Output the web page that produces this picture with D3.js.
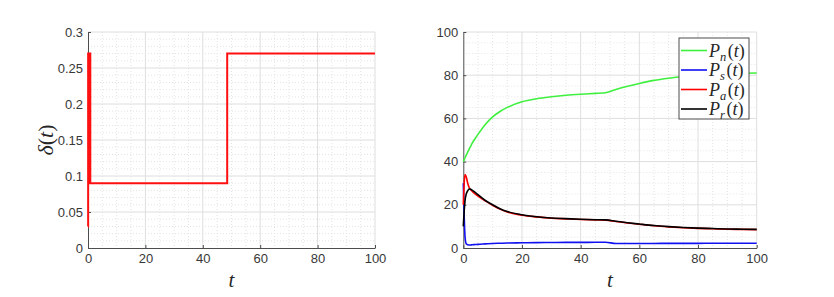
<!DOCTYPE html>
<html lang="en">
<meta charset="utf-8">
<style>
body { margin: 0; background: #fff; }
.tick text { font-family: "Liberation Sans", Arial, sans-serif; font-size: 13px; fill: #383838; }
.axis path, .axis line { stroke: #4d4d4d; }
.grid-major line { stroke: #dedede; stroke-width: 1px; }
.grid-minor line { stroke: #e4e4e4; stroke-width: 1px; stroke-dasharray: 1,2; }
.math { font-family: "Liberation Serif", "Times New Roman", serif; fill: #262626; }
</style>
<body>
<div id="chart"></div>
<script src="https://d3js.org/d3.v7.min.js"></script>
<script>
"use strict";

// left panel: delta(t), switching at the start and at t ~ 48.5
const tDelta = [0, 0.05, 0.05, 0.2, 0.2, 0.35, 0.35, 0.5, 0.5, 0.65, 0.65, 0.8, 0.8, 48.5, 48.5, 100];
const delta  = [0.03, 0.03, 0.27, 0.27, 0.09, 0.09, 0.27, 0.27, 0.09, 0.09, 0.27, 0.27, 0.09, 0.09, 0.27, 0.27];
const deltaTicks = [0, 0.05, 0.1, 0.15, 0.2, 0.25, 0.3];

// right panel: populations
const tP = [0, 0.3, 0.6, 1, 1.5, 2, 2.5, 3, 4, 5, 7.5, 10, 12.5, 15, 20, 25, 30, 35, 40, 45, 48.5, 52, 56, 60, 65, 70, 75, 80, 85, 90, 95, 100];
const Pn = [40, 40.9, 41.8, 43, 44.4, 45.8, 47.1, 48.4, 50.6, 52.6, 57.2, 60.7, 63.2, 65.1, 67.7, 69.1, 70, 70.7, 71.2, 71.6, 71.9, 73.4, 74.9, 76.2, 77.6, 78.6, 79.4, 80, 80.4, 80.7, 80.9, 81];
const Ps = [30, 15, 5, 2, 1.5, 1.4, 1.4, 1.5, 1.6, 1.7, 1.9, 2.1, 2.2, 2.3, 2.4, 2.5, 2.55, 2.6, 2.6, 2.65, 2.65, 2.1, 2.1, 2.1, 2.1, 2.15, 2.15, 2.15, 2.2, 2.2, 2.2, 2.2];
const Pa = [20, 30, 34, 33, 30, 28, 27, 26.3, 25, 24, 21.8, 19.8, 18, 16.7, 15.2, 14.4, 13.8, 13.5, 13.2, 13.0, 12.9, 12.3, 11.6, 11, 10.3, 9.8, 9.4, 9.1, 8.9, 8.7, 8.6, 8.5];
const Pr = [10, 17, 22, 25, 26.5, 27.3, 27.2, 26.8, 25.8, 24.7, 22, 20, 18.2, 16.9, 15.4, 14.5, 13.9, 13.6, 13.3, 13.1, 13.0, 12.4, 11.7, 11.1, 10.4, 9.9, 9.5, 9.2, 9.0, 8.8, 8.7, 8.6];
const popNames = ["n", "s", "a", "r"];
const popColors = ["#3ff03f", "#1010f0", "#ff0000", "#000000"];
const popTicks = [0, 20, 40, 60, 80, 100];
const tTicks = [0, 20, 40, 60, 80, 100];

var svg = d3.select("#chart").append("svg")
  .attr("width", 834)
  .attr("height", 297);

function panel(left, right, yDomain, yTicks, yMinor, yFmt) {
  var top = 32, bottom = 248;
  var x = d3.scaleLinear().domain([0, 100]).range([left, right]);
  var y = d3.scaleLinear().domain(yDomain).range([bottom, top]);
  var g = svg.append("g");

  // minor grid (dotted)
  var gm = g.append("g").attr("class", "grid-minor");
  gm.selectAll("line.vx").data(d3.range(5, 100, 5).filter(v => v % 20 !== 0))
    .join("line").attr("class", "vx")
    .attr("x1", d => x(d)).attr("x2", d => x(d)).attr("y1", top).attr("y2", bottom);
  gm.selectAll("line.hy").data(yMinor)
    .join("line").attr("class", "hy")
    .attr("x1", left).attr("x2", right).attr("y1", d => y(d)).attr("y2", d => y(d));

  // major grid
  var gM = g.append("g").attr("class", "grid-major");
  gM.selectAll("line.vx").data(tTicks.slice(1))
    .join("line").attr("class", "vx")
    .attr("x1", d => x(d)).attr("x2", d => x(d)).attr("y1", top).attr("y2", bottom);
  gM.selectAll("line.hy").data(yTicks.slice(1))
    .join("line").attr("class", "hy")
    .attr("x1", left).attr("x2", right).attr("y1", d => y(d)).attr("y2", d => y(d));

  g.append("g").attr("class", "axis")
    .attr("transform", "translate(0," + bottom + ")")
    .call(d3.axisBottom(x).tickValues(tTicks).tickSizeInner(-3).tickSizeOuter(0).tickPadding(6));
  g.append("g").attr("class", "axis")
    .attr("transform", "translate(" + left + ",0)")
    .call(d3.axisLeft(y).tickValues(yTicks).tickFormat(yFmt).tickSizeInner(-3).tickSizeOuter(0).tickPadding(5));
  g.selectAll(".axis .domain").attr("stroke", "#4d4d4d");

  // x label
  g.append("text").attr("class", "math")
    .attr("x", (left + right) / 2).attr("y", 287)
    .attr("text-anchor", "middle")
    .style("font-size", "21px").style("font-style", "italic")
    .text("t");

  return {g: g, x: x, y: y};
}

// ---- left panel
var L = panel(88, 375, [0, 0.3], deltaTicks, d3.range(0.01, 0.3, 0.01).filter((v, i) => (i + 1) % 5 !== 0), d => d === 0 ? "0" : String(d));

L.g.append("path")
  .datum(tDelta.map((t, i) => [t, delta[i]]))
  .attr("fill", "none").attr("stroke", "#ff1010").attr("stroke-width", 2)
  .attr("d", d3.line().x(d => L.x(d[0])).y(d => L.y(d[1])));

var yl = L.g.append("text").attr("class", "math")
  .attr("transform", "translate(53,140) rotate(-90)")
  .attr("text-anchor", "middle")
  .style("font-size", "22px");
yl.append("tspan").style("font-style", "italic").text("δ");
yl.append("tspan").text("(");
yl.append("tspan").style("font-style", "italic").text("t");
yl.append("tspan").text(")");

// ---- right panel
var R = panel(463.3, 756.7, [0, 100], popTicks, d3.range(5, 100, 5).filter(v => v % 20 !== 0), d => String(d));

var series = [Pn, Ps, Pa, Pr];
var line = d3.line().curve(d3.curveMonotoneX).x((d, i) => R.x(tP[i])).y(d => R.y(d));
series.forEach(function(s, k) {
  R.g.append("path").datum(s)
    .attr("fill", "none").attr("stroke", popColors[k]).attr("stroke-width", 1.6)
    .attr("d", line);
});

// legend
var lg = R.g.append("g").attr("transform", "translate(679,38)");
lg.append("rect").attr("width", 70).attr("height", 81)
  .attr("fill", "#fff").attr("stroke", "#4d4d4d").attr("stroke-width", 1);
popNames.forEach(function(n, k) {
  var cy = 12.5 + k * 19.5;
  lg.append("line").attr("x1", 2).attr("x2", 28).attr("y1", cy).attr("y2", cy)
    .attr("stroke", popColors[k]).attr("stroke-width", 1.6);
  var tx = lg.append("text").attr("class", "math")
    .attr("x", 30).attr("y", cy + 6)
    .style("font-size", "18px");
  tx.append("tspan").style("font-style", "italic").text("P");
  tx.append("tspan").style("font-style", "italic").style("font-size", "12.5px").attr("dy", 4).text(n);
  tx.append("tspan").attr("dy", -4).attr("dx", 1.5).text("(");
  tx.append("tspan").style("font-style", "italic").text("t");
  tx.append("tspan").text(")");
});
</script>
</body>
</html>
